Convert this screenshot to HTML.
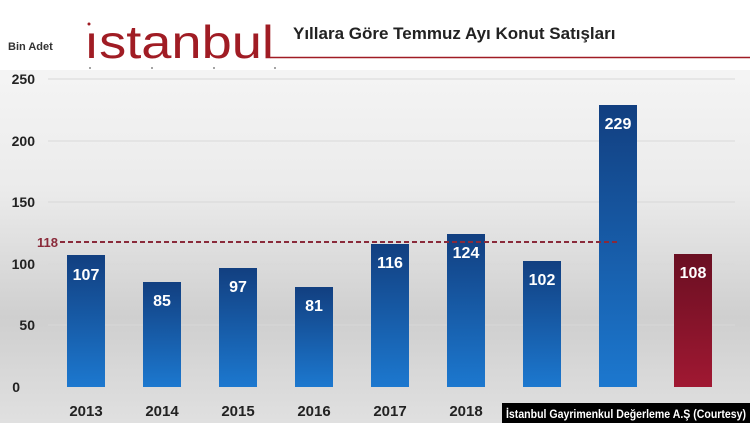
<!DOCTYPE html>
<html><head><meta charset="utf-8"><style>
body{margin:0;width:750px;height:423px;overflow:hidden;font-family:"Liberation Sans",sans-serif}
</style></head><body>
<svg width="750" height="423" xmlns="http://www.w3.org/2000/svg">
<defs>
<linearGradient id="bg" x1="0" y1="0" x2="0" y2="1">
<stop offset="0" stop-color="#fafafa"/><stop offset="0.45" stop-color="#ebebeb"/><stop offset="0.75" stop-color="#cfcfcf"/><stop offset="1" stop-color="#e0e0e0"/></linearGradient>
<linearGradient id="bl" x1="0" y1="0" x2="0" y2="1"><stop offset="0" stop-color="#123f80"/><stop offset="1" stop-color="#1c78cf"/></linearGradient>
<linearGradient id="rd" x1="0" y1="0" x2="0" y2="1"><stop offset="0" stop-color="#6a0f22"/><stop offset="1" stop-color="#a01832"/></linearGradient>
</defs>
<rect width="750" height="423" fill="url(#bg)"/>
<rect x="0" y="0" width="750" height="70" fill="#fff"/>
<g stroke="#d8d8d8" stroke-width="1">
<line x1="48" y1="79" x2="735" y2="79"/><line x1="48" y1="141" x2="735" y2="141"/><line x1="48" y1="202" x2="735" y2="202"/><line x1="48" y1="264" x2="735" y2="264"/><line x1="48" y1="325" x2="735" y2="325"/>
</g>
<text x="8" y="50" font-size="11" font-weight="bold" fill="#333">Bin Adet</text>
<text x="84" y="58" font-size="46" fill="#a01c24" font-family="Liberation Sans Narrow, Liberation Sans" font-weight="normal" textLength="190" lengthAdjust="spacingAndGlyphs">ıstanbul</text>
<circle cx="89" cy="24" r="1.5" fill="#a01c24"/>
<g fill="#888"><circle cx="90" cy="68" r="1"/><circle cx="152" cy="68" r="1"/><circle cx="214" cy="68" r="1"/><circle cx="275" cy="68" r="1"/></g>
<line x1="270" y1="57.5" x2="750" y2="57.5" stroke="#a01c24" stroke-width="1.5"/>
<text x="293" y="39" font-size="17" font-weight="bold" fill="#222">Yıllara Göre Temmuz Ayı Konut Satışları</text>
<g font-size="14" font-weight="bold" fill="#222" text-anchor="end">
<text x="35" y="84">250</text><text x="35" y="146">200</text><text x="35" y="207">150</text><text x="35" y="269">100</text><text x="35" y="330">50</text><text x="20" y="392">0</text>
</g>
<g fill="url(#bl)">
<rect x="67" y="255" width="38" height="132"/>
<rect x="143" y="282" width="38" height="105"/>
<rect x="219" y="268" width="38" height="119"/>
<rect x="295" y="287" width="38" height="100"/>
<rect x="371" y="244" width="38" height="143"/>
<rect x="447" y="234" width="38" height="153"/>
<rect x="523" y="261" width="38" height="126"/>
<rect x="599" y="105" width="38" height="282"/>
</g>
<rect x="674" y="254" width="38" height="133" fill="url(#rd)"/>
<line x1="60" y1="242" x2="620" y2="242" stroke="#8a2a3a" stroke-width="2" stroke-dasharray="5,3"/>
<text x="58" y="247" font-size="13" font-weight="bold" fill="#8a2a3a" text-anchor="end">118</text>
<g font-size="16" font-weight="bold" fill="#fff" text-anchor="middle">
<text x="86" y="280">107</text><text x="162" y="306">85</text><text x="238" y="292">97</text><text x="314" y="311">81</text><text x="390" y="268">116</text><text x="466" y="258">124</text><text x="542" y="285">102</text><text x="618" y="129">229</text><text x="693" y="278">108</text>
</g>
<g font-size="15" font-weight="bold" fill="#222" text-anchor="middle">
<text x="86" y="416">2013</text><text x="162" y="416">2014</text><text x="238" y="416">2015</text><text x="314" y="416">2016</text><text x="390" y="416">2017</text><text x="466" y="416">2018</text>
</g>
<rect x="502" y="403" width="248" height="20" fill="#000"/>
<text x="506" y="418" font-size="12" font-weight="bold" fill="#fff" textLength="240" lengthAdjust="spacingAndGlyphs">İstanbul Gayrimenkul Değerleme A.Ş (Courtesy)</text>
</svg>
</body></html>
